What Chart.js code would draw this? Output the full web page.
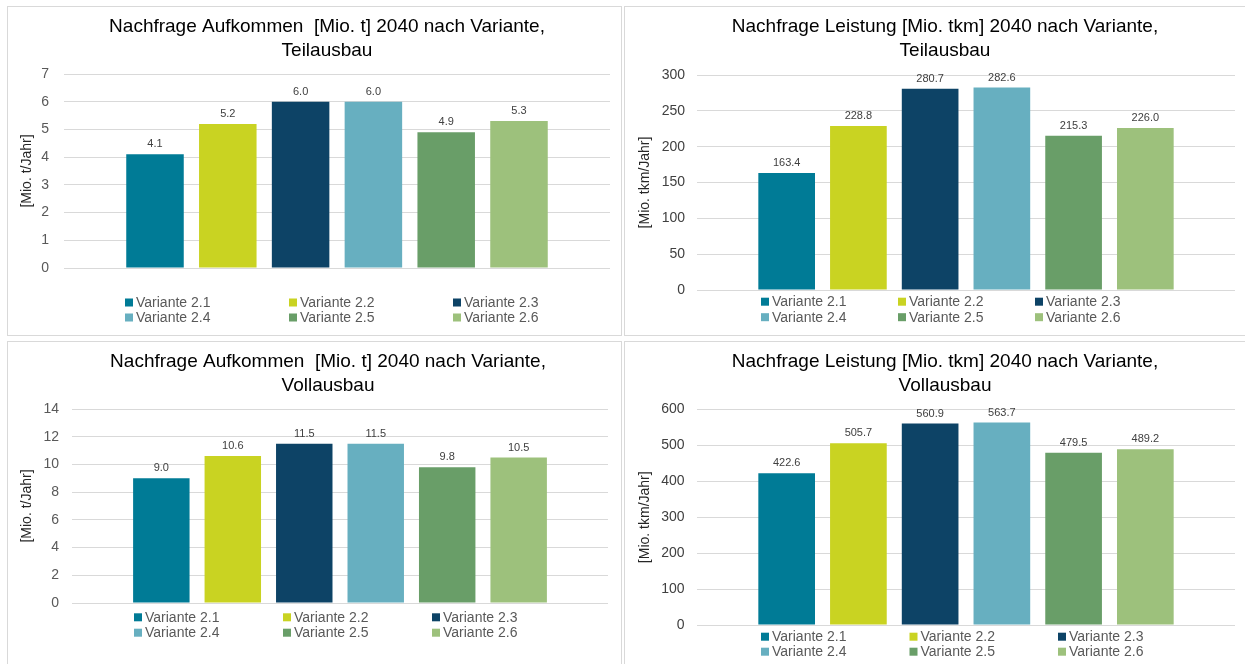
<!DOCTYPE html>
<html>
<head>
<meta charset="utf-8">
<script src="https://cdn.jsdelivr.net/npm/chart.js@4.4.1/dist/chart.umd.min.js"></script>
<style>
  html, body { margin: 0; padding: 0; background: #fff; width: 1245px; height: 664px; overflow: hidden; }
  .panel { position: absolute; box-sizing: border-box; border: 1px solid #d9d9d9; background: #fff; }
  .panel canvas { display: block; }
</style>
</head>
<body>
<div class="panel" style="left:7px;top:6px;width:615px;height:330px"><canvas id="c1" width="613" height="328"></canvas></div>
<div class="panel" style="left:624px;top:6px;width:622px;height:330px"><canvas id="c2" width="620" height="328"></canvas></div>
<div class="panel" style="left:7px;top:341px;width:615px;height:330px"><canvas id="c3" width="613" height="328"></canvas></div>
<div class="panel" style="left:624px;top:341px;width:622px;height:330px"><canvas id="c4" width="620" height="328"></canvas></div>

<script>
// Variants (one bar each) and the demand figures for 2040
const variants = ['Variante 2.1', 'Variante 2.2', 'Variante 2.3', 'Variante 2.4', 'Variante 2.5', 'Variante 2.6'];

const aufkommenTeil   = [4.1, 5.2, 6.0, 6.0, 4.9, 5.3];          // Mio. t
const leistungTeil    = [163.4, 228.8, 280.7, 282.6, 215.3, 226.0]; // Mio. tkm
const aufkommenVoll   = [9.0, 10.6, 11.5, 11.5, 9.8, 10.5];      // Mio. t
const leistungVoll    = [422.6, 505.7, 560.9, 563.7, 479.5, 489.2]; // Mio. tkm

// Value-axis ranges: [max, step]
const ticksAufkommenTeil = [7, 1];
const ticksLeistungTeil  = [300, 50];
const ticksAufkommenVoll = [14, 2];
const ticksLeistungVoll  = [600, 100];

const titleAufkommenTeil = ['Nachfrage Aufkommen  [Mio. t] 2040 nach Variante,', 'Teilausbau'];
const titleLeistungTeil  = ['Nachfrage Leistung [Mio. tkm] 2040 nach Variante,', 'Teilausbau'];
const titleAufkommenVoll = ['Nachfrage Aufkommen  [Mio. t] 2040 nach Variante,', 'Vollausbau'];
const titleLeistungVoll  = ['Nachfrage Leistung [Mio. tkm] 2040 nach Variante,', 'Vollausbau'];

const unitTonnes = '[Mio. t/Jahr]';
const unitTkm    = '[Mio. tkm/Jahr]';

const palette = ['#007b96', '#c9d322', '#0d4366', '#67afc0', '#699e68', '#9dc17c'];
const FONT = "'Liberation Sans', Arial, Helvetica, sans-serif";

// Value labels above each bar
const barValues = {
  id: 'barValues',
  afterDatasetsDraw(chart) {
    const ctx = chart.ctx;
    ctx.save();
    ctx.font = '11px ' + FONT;
    ctx.fillStyle = '#404040';
    ctx.textAlign = 'center';
    ctx.textBaseline = 'middle';
    chart.data.datasets.forEach((ds, i) => {
      const el = chart.getDatasetMeta(i).data[0];
      ctx.fillText(Number(ds.data[0]).toFixed(1), el.x, el.y - 10);
    });
    ctx.restore();
  }
};

// Legend laid out as a 3-column grid under the plot
const gridLegend = {
  id: 'gridLegend',
  afterDraw(chart, args, opts) {
    const ctx = chart.ctx;
    ctx.save();
    ctx.font = '14px ' + FONT;
    ctx.textBaseline = 'middle';
    ctx.textAlign = 'left';
    chart.data.datasets.forEach((ds, i) => {
      const col = i % 3, row = Math.floor(i / 3);
      const x = opts.x + col * opts.stride;
      const y = opts.rows[row];
      ctx.fillStyle = ds.backgroundColor;
      ctx.fillRect(x, y - 4, 8, 8);
      ctx.fillStyle = '#595959';
      ctx.fillText(ds.label, x + 11, y + 0.5);
    });
    ctx.restore();
  }
};

// Centre the title over the plot rather than over the whole canvas
const titleShift = {
  id: 'titleShift',
  afterLayout(chart, args, opts) {
    const t = chart.titleBlock;
    if (t) { t.left += opts.dx; t.right += opts.dx; }
  }
};

function makeChart(id, c) {
  const titleSize = 19, titleLH = 1.25;
  const titleTop = 20 - titleSize * titleLH / 2;
  return new Chart(document.getElementById(id), {
    type: 'bar',
    data: {
      labels: [''],
      datasets: variants.map((v, i) => ({
        label: v,
        data: [c.values[i]],
        backgroundColor: palette[i],
        borderWidth: 0,
        categoryPercentage: 0.8,
        barPercentage: 0.79
      }))
    },
    options: {
      responsive: false,
      animation: false,
      devicePixelRatio: 1,
      layout: { padding: { left: 0, right: c.padRight, top: 0, bottom: c.padBottom } },
      plugins: {
        legend: { display: false },
        tooltip: { enabled: false },
        title: {
          display: true,
          text: c.title,
          color: '#000',
          font: { family: FONT, size: titleSize, weight: 'normal', lineHeight: titleLH },
          padding: { top: titleTop, bottom: c.plotTop - titleTop - 2 * titleSize * titleLH }
        },
        titleShift: { dx: c.shift / 2 },
        gridLegend: c.legend
      },
      scales: {
        x: { display: false },
        y: {
          min: 0,
          max: c.ticks[0],
          ticks: { stepSize: c.ticks[1], padding: c.tickPad, color: c.tickColor, font: { family: FONT, size: 14 } },
          grid: { color: '#d9d9d9', lineWidth: 1, drawTicks: false },
          border: { display: false },
          title: {
            display: true,
            text: c.unit,
            color: '#262626',
            font: { family: FONT, size: 14, lineHeight: 1.2 },
            padding: { top: c.unitX - 8.4, bottom: 0 }
          },
          afterFit(scale) { scale.width = c.axisWidth; }
        }
      }
    },
    plugins: [titleShift, barValues, gridLegend]
  });
}

makeChart('c1', {
  values: aufkommenTeil, ticks: ticksAufkommenTeil, title: titleAufkommenTeil, unit: unitTonnes,
  axisWidth: 56, shift: 36, padRight: 11, padBottom: 67, plotTop: 67, tickPad: 15, tickColor: '#595959', unitX: 19,
  legend: { x: 117, stride: 164, rows: [295.5, 310.5] }
});
makeChart('c2', {
  values: leistungTeil, ticks: ticksLeistungTeil, title: titleLeistungTeil, unit: unitTkm,
  axisWidth: 72, shift: 30, padRight: 10, padBottom: 45, plotTop: 68, tickPad: 12, tickColor: '#404040', unitX: 20,
  legend: { x: 136, stride: 137, rows: [294.7, 310.2] }
});
makeChart('c3', {
  values: aufkommenVoll, ticks: ticksAufkommenVoll, title: titleAufkommenVoll, unit: unitTonnes,
  axisWidth: 64, shift: 40, padRight: 13, padBottom: 67, plotTop: 67, tickPad: 13, tickColor: '#595959', unitX: 19,
  legend: { x: 126, stride: 149, rows: [275.3, 290.7] }
});
makeChart('c4', {
  values: leistungVoll, ticks: ticksLeistungVoll, title: titleLeistungVoll, unit: unitTkm,
  axisWidth: 72, shift: 30, padRight: 10, padBottom: 45, plotTop: 67.5, tickPad: 12.5, tickColor: '#404040', unitX: 20,
  legend: { x: 136, stride: 148.5, rows: [294.7, 309.7] }
});
</script>
</body>
</html>
